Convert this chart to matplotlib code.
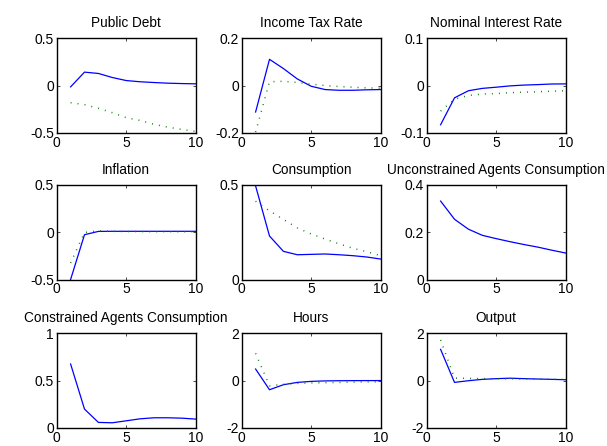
import matplotlib
matplotlib.use("Agg")
import matplotlib.pyplot as plt
import numpy as np

plt.rcParams['font.family'] = ['Liberation Sans', 'DejaVu Sans']
plt.rcParams['axes.unicode_minus'] = False

periods = np.arange(1, 11)

titles = ["Public Debt", "Income Tax Rate", "Nominal Interest Rate",
          "Inflation", "Consumption", "Unconstrained Agents Consumption",
          "Constrained Agents Consumption", "Hours", "Output"]

# impulse responses: solid blue model, dotted green benchmark
debt_a = [-0.014, 0.142, 0.128, 0.085, 0.053, 0.040, 0.032, 0.025, 0.021, 0.018]
debt_b = [-0.181, -0.202, -0.241, -0.287, -0.340, -0.369, -0.411, -0.440, -0.465, -0.486]
tax_a = [-0.112, 0.111, 0.072, 0.028, -0.003, -0.017, -0.020, -0.020, -0.018, -0.017]
tax_b = [-0.197, 0.016, 0.018, 0.013, 0.006, 0.000, -0.004, -0.007, -0.010, -0.011]
rate_a = [-0.083, -0.026, -0.011, -0.006, -0.0035, -0.0007, 0.001, 0.002, 0.0033, 0.0035]
rate_b = [-0.054, -0.029, -0.021, -0.018, -0.017, -0.015, -0.014, -0.013, -0.012, -0.011]
infl_a = [-0.50, -0.026, 0.009, 0.010, 0.010, 0.010, 0.010, 0.010, 0.010, 0.010]
infl_b = [-0.325, -0.002, 0.015, 0.010, 0.008, 0.007, 0.006, 0.006, 0.005, 0.005]
cons_a = [0.495, 0.230, 0.149, 0.131, 0.133, 0.135, 0.131, 0.126, 0.119, 0.108]
cons_b = [0.414, 0.363, 0.318, 0.273, 0.241, 0.214, 0.189, 0.165, 0.147, 0.126]
uncons_a = [0.332, 0.255, 0.213, 0.187, 0.173, 0.160, 0.148, 0.137, 0.124, 0.112]
constr_a = [0.675, 0.198, 0.057, 0.053, 0.074, 0.095, 0.106, 0.106, 0.102, 0.092]
hours_a = [0.488, -0.389, -0.177, -0.078, -0.035, -0.015, -0.008, -0.004, -0.002, -0.001]
hours_b = [1.15, -0.22, -0.16, -0.12, -0.10, -0.09, -0.08, -0.07, -0.06, -0.05]
output_a = [1.32, -0.078, -0.007, 0.050, 0.080, 0.100, 0.080, 0.065, 0.050, 0.035]
output_b = [1.72, 0.106, 0.090, 0.080, 0.075, 0.070, 0.065, 0.060, 0.055, 0.050]

solid_series = [debt_a, tax_a, rate_a, infl_a, cons_a, uncons_a, constr_a, hours_a, output_a]
dotted_series = [debt_b, tax_b, rate_b, infl_b, cons_b, None, None, hours_b, output_b]

y_limits = [(-0.5, 0.5), (-0.2, 0.2), (-0.1, 0.1),
            (-0.5, 0.5), (0, 0.5), (0, 0.4),
            (0, 1), (-2, 2), (-2, 2)]
y_ticks = [[-0.5, 0, 0.5], [-0.2, 0, 0.2], [-0.1, 0, 0.1],
           [-0.5, 0, 0.5], [0, 0.5], [0, 0.2, 0.4],
           [0, 0.5, 1], [-2, 0, 2], [-2, 0, 2]]
x_ticks = [0, 5, 10]

W, H = 607, 446
fig = plt.figure(figsize=(W / 100, H / 100), dpi=100)

col_left = [56.7, 241.7, 426.7]
row_top = [38.3, 185.0, 333.3]
ax_w, ax_h = 139.0, 94.5

def fmt(v):
    return f"{v:g}"

for i in range(9):
    r, c = divmod(i, 3)
    ax = fig.add_axes([col_left[c] / W, 1 - (row_top[r] + ax_h) / H, ax_w / W, ax_h / H])
    ax.plot(periods, solid_series[i], color=(0, 0, 1), lw=0.9)
    if dotted_series[i] is not None:
        ax.plot(periods, dotted_series[i], color=(0, 0.5, 0), lw=1.1,
                linestyle=(0, (0.6, 4.0)))
    ax.set_xlim(0, 10)
    ax.set_ylim(*y_limits[i])
    ax.set_xticks(x_ticks)
    ax.set_xticklabels([fmt(t) for t in x_ticks])
    ax.set_yticks(y_ticks[i])
    ax.set_yticklabels([fmt(t) for t in y_ticks[i]])
    ax.tick_params(direction='in', length=2.5, width=0.5, labelsize=10,
                   top=True, right=True, pad=2, colors='black')
    for sp in ax.spines.values():
        sp.set_linewidth(1.0)
    ax.set_title(titles[i], fontsize=9.8, pad=8)

fig.savefig("out.png", dpi=100)
